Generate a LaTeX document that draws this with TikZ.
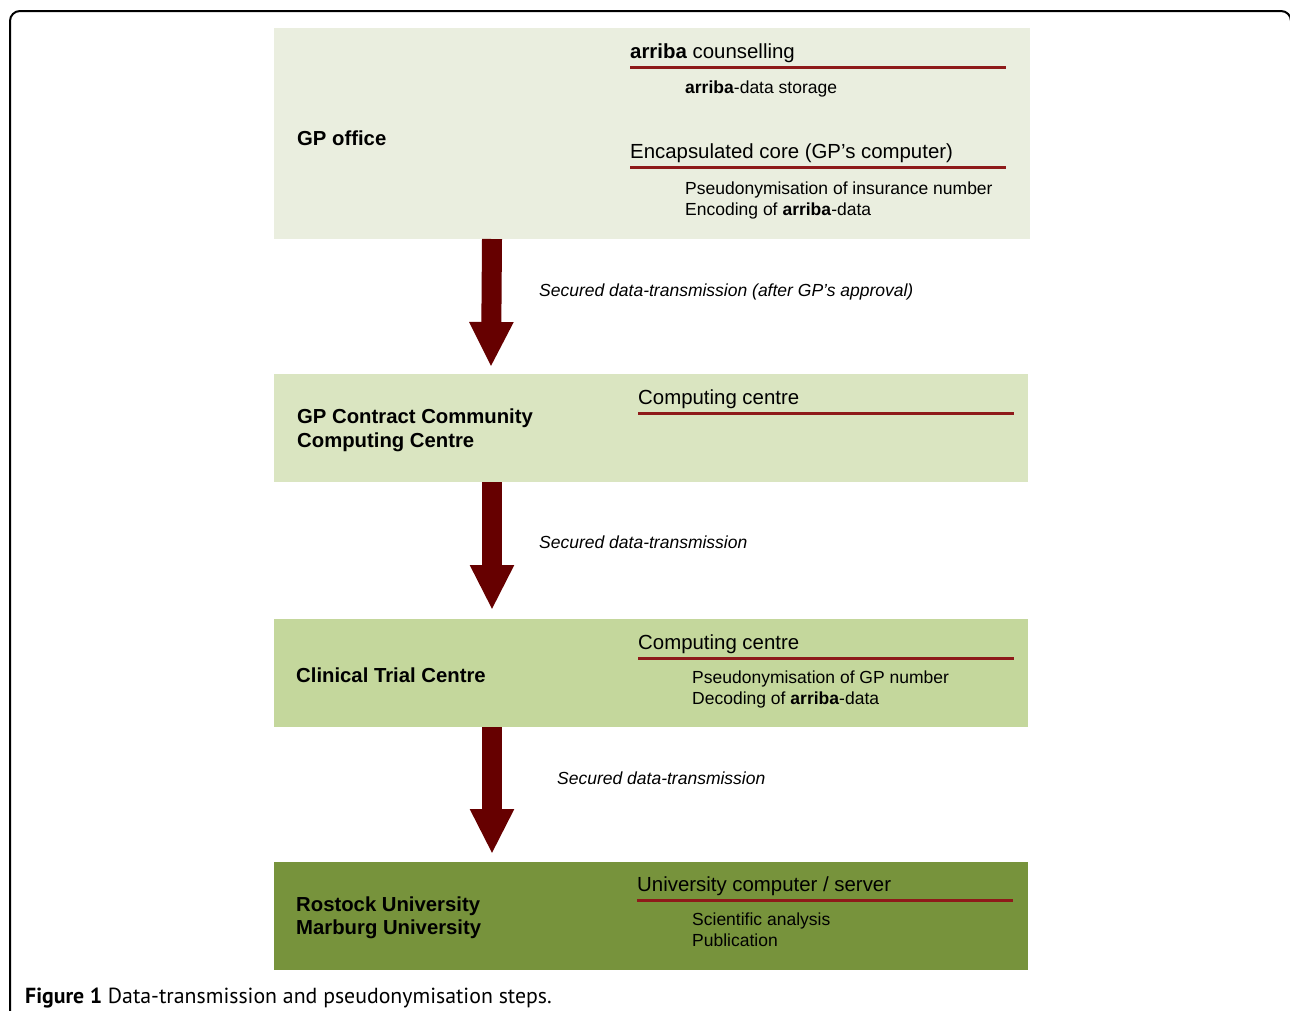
\documentclass[tikz,border=0pt]{standalone}
\usepackage{fontspec}
\setmainfont{Liberation Sans}
\newfontfamily\capfont{PT Sans}
\usetikzlibrary{arrows.meta}
\definecolor{boxA}{HTML}{EAEEDF}
\definecolor{boxB}{HTML}{DAE5C1}
\definecolor{boxC}{HTML}{C4D79C}
\definecolor{boxD}{HTML}{77933C}
\definecolor{arrowred}{HTML}{660000}
\definecolor{linered}{HTML}{8E1A1A}
\tikzset{
  stagebox/.style={draw=none, inner sep=0pt, outer sep=0pt},
  title/.style={anchor=base west, inner sep=0pt, font=\fontsize{20.3}{24}\selectfont\bfseries},
  head/.style={anchor=base west, inner sep=0pt, font=\fontsize{20.4}{24}\selectfont},
  sub/.style={anchor=base west, inner sep=0pt, font=\fontsize{17.5}{21}\selectfont},
  note/.style={anchor=base west, inner sep=0pt, font=\fontsize{17.5}{21}\selectfont\itshape},
  rule/.style={draw=linered, line width=3pt},
  bigarrow/.style={draw=arrowred, line width=20pt, -{Triangle[width=41pt,length=45pt,fill=arrowred]}},
}
\begin{document}
\begin{tikzpicture}[x=1pt,y=-1pt]
\useasboundingbox (0,0) rectangle (1290,1010);
\begin{scope}
\clip (0,0) rectangle (1290,1010);
\draw[line width=2pt, rounded corners=10pt] (10,1040) -- (10,11) -- (1291,11) -- (1291,1040);
\end{scope}

% boxes
\fill[boxA] (274,28) rectangle (1030,239);
\fill[boxB] (274,374) rectangle (1028,482);
\fill[boxC] (274,619) rectangle (1028,727);
\fill[boxD] (274,862) rectangle (1028,970);
\node[stagebox, minimum width=756pt, minimum height=211pt] (b1) at (652,133.5) {};
\node[stagebox, minimum width=754pt, minimum height=108pt] (b2) at (651,428) {};
\node[stagebox, minimum width=754pt, minimum height=108pt] (b3) at (651,673) {};
\node[stagebox, minimum width=754pt, minimum height=108pt] (b4) at (651,916) {};

% box 1
\node[title] (t1) at (297,145) {GP office};
\node[head] (h1a) at (630,58) {\textbf{arriba} counselling};
\draw[rule] (630,67) -- (1006,67);
\node[sub] (s1a) at (685,93) {\textbf{arriba}-data storage};
\node[head] (h1b) at (630,158) {Encapsulated core (GP’s computer)};
\draw[rule] (630,167) -- (1006,167);
\node[sub] (s1b) at (685,194) {Pseudonymisation of insurance number};
\node[sub] (s1c) at (685,215) {Encoding of \textbf{arriba}-data};

% box 2
\node[title] (t2a) at (297,423) {GP Contract Community};
\node[title] (t2b) at (297,447) {Computing Centre};
\node[head] (h2) at (638,404) {Computing centre};
\draw[rule] (638,413) -- (1014,413);

% box 3
\node[title] (t3) at (296,682) {Clinical Trial Centre};
\node[head] (h3) at (638,649) {Computing centre};
\draw[rule] (638,658) -- (1014,658);
\node[sub] (s3a) at (692,683) {Pseudonymisation of GP number};
\node[sub] (s3b) at (692,704) {Decoding of \textbf{arriba}-data};

% box 4
\node[title] (t4a) at (296,911) {Rostock University};
\node[title] (t4b) at (296,934) {Marburg University};
\node[head] (h4) at (637,891) {University computer / server};
\draw[rule] (637,900) -- (1013,900);
\node[sub] (s4a) at (692,925) {Scientific analysis};
\node[sub] (s4b) at (692,946) {Publication};

% arrows
\draw[bigarrow] ([xshift=-160pt]b1.south) -- ([xshift=-160pt,yshift=7pt]b2.north);
\draw[bigarrow] ([xshift=-159pt]b2.south) -- ([xshift=-159pt,yshift=9pt]b3.north);
\draw[bigarrow] ([xshift=-159pt]b3.south) -- ([xshift=-159pt,yshift=8pt]b4.north);

\node[note] (n1) at (539,296) {Secured data-transmission (after GP’s approval)};
\node[note] (n2) at (539,548) {Secured data-transmission};
\node[note] (n3) at (557,784) {Secured data-transmission};

% caption
\node[anchor=base west, inner sep=0pt, font=\capfont\fontsize{21.8}{26}\selectfont] (cap) at (25,1003) {\textbf{Figure 1} Data-transmission and pseudonymisation steps.};
\end{tikzpicture}
\end{document}
